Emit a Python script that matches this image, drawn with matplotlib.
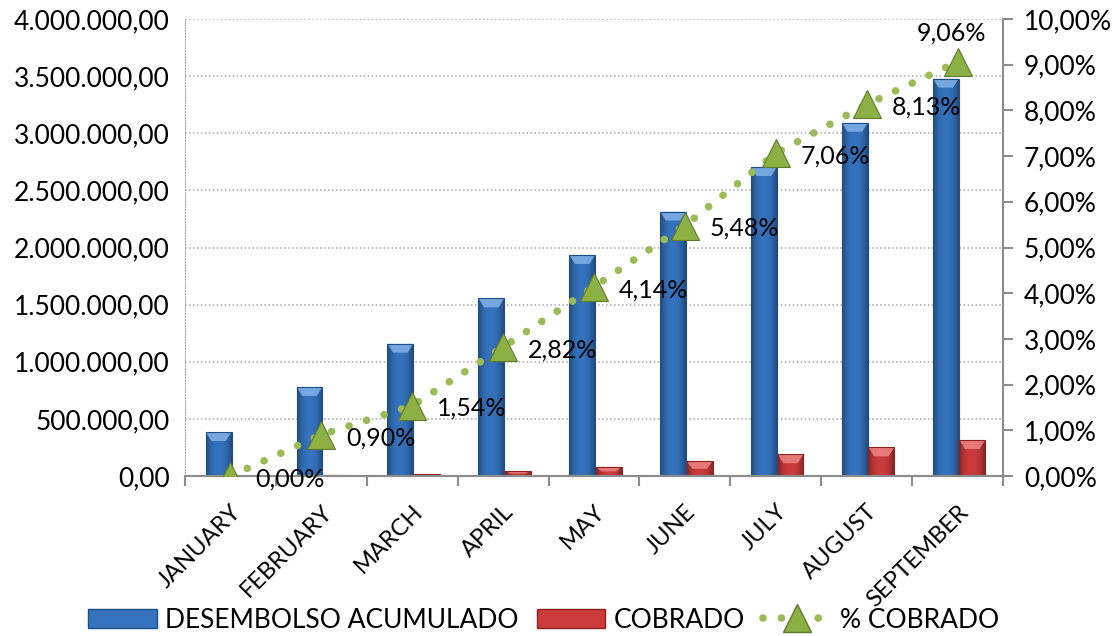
import numpy as np
import matplotlib
matplotlib.use("Agg")
import matplotlib.pyplot as plt
from matplotlib.patches import Polygon, Rectangle
from matplotlib.lines import Line2D
from matplotlib.ticker import FuncFormatter, MultipleLocator, FixedLocator

plt.rcParams['font.family'] = ['Lato', 'DejaVu Sans']

months = ["JANUARY", "FEBRUARY", "MARCH", "APRIL", "MAY", "JUNE", "JULY", "AUGUST", "SEPTEMBER"]
desembolso = [385000, 780000, 1158000, 1555000, 1935000, 2315000, 2705000, 3092000, 3478000]
cobrado = [0, 7000, 18000, 44000, 80000, 127000, 191000, 251000, 315000]
pct_cobrado = [0.0000, 0.0090, 0.0154, 0.0282, 0.0414, 0.0548, 0.0706, 0.0813, 0.0906]
pct_labels = ["0,00%", "0,90%", "1,54%", "2,82%", "4,14%", "5,48%", "7,06%", "8,13%", "9,06%"]

BLUE = "#3573BE"
BLUE_DARK = "#1F4E86"
BLUE_LIGHT = "#8CBBEE"
RED = "#CC3B3B"
RED_DARK = "#8E2020"
RED_LIGHT = "#F29090"
GREEN = "#9BBB59"
GREEN_FACE = "#8DB045"
GREEN_DARK = "#5E7A2C"
GRAY = "#8C8C8C"

W, H = 1116, 636
fig = plt.figure(figsize=(W / 100, H / 100), dpi=100)
ax = fig.add_axes([185 / W, 1 - 476 / H, (1003 - 185) / W, (476 - 19) / H])
ax2 = ax.twinx()

x = np.arange(len(months))
bw = 0.285


def euro(v, _):
    s = f"{v:,.2f}"
    return s.replace(",", "X").replace(".", ",").replace("X", ".")


def pct(v, _):
    return f"{v * 100:.2f}%".replace(".", ",")


def shade(hex_color, f):
    c = np.array(matplotlib.colors.to_rgb(hex_color))
    if f >= 0:
        return c + (1 - c) * f
    return c * (1 + f)


def bevel_bars(bars, base, dark, light):
    ylim = 4000000
    cap = 9 * ylim / 457.0
    for b in bars:
        x0, y0 = b.get_x(), b.get_y()
        w, h = b.get_width(), b.get_height()
        if h <= 0:
            continue
        cols = 40
        prof = np.linspace(-1, 1, cols)
        k = -0.35 * np.abs(prof) ** 2.2
        row = np.array([shade(base, kk) for kk in k])
        img = np.repeat(row[None, :, :], 2, axis=0)
        im = ax.imshow(img, extent=(x0, x0 + w, y0, y0 + h), aspect="auto",
                       zorder=2, interpolation="bilinear")
        im.set_clip_path(b)
        ch = min(cap, h * 0.5)
        top = y0 + h
        inset = w * 0.22
        ax.add_patch(Polygon([(x0, top), (x0 + w, top), (x0 + w - inset, top - ch),
                              (x0 + inset, top - ch)], closed=True,
                             facecolor=light, edgecolor="none", alpha=0.75, zorder=3))
        ax.add_patch(Rectangle((x0, y0), w, h, facecolor="none", edgecolor=dark,
                               linewidth=0.8, zorder=3))


ax.set_xlim(-0.5, len(months) - 0.5)
ax.set_ylim(0, 4000000)
ax2.set_ylim(0, 0.10)

ax.yaxis.set_major_locator(MultipleLocator(500000))
ax.yaxis.set_major_formatter(FuncFormatter(euro))
ax2.yaxis.set_major_locator(MultipleLocator(0.01))
ax2.yaxis.set_major_formatter(FuncFormatter(pct))

ax.grid(axis="y", color="#A6A6A6", linestyle=(0, (1, 1.6)), linewidth=1.1)
ax.set_axisbelow(True)

blue_bars = ax.bar(x - 0.13, desembolso, width=bw, color="none", edgecolor="none", zorder=2)
red_bars = ax.bar(x + 0.162, cobrado, width=bw, color="none", edgecolor="none", zorder=2)
bevel_bars(blue_bars, BLUE, BLUE_DARK, BLUE_LIGHT)
bevel_bars(red_bars, RED, RED_DARK, RED_LIGHT)

ax2.plot(x, pct_cobrado, color=GREEN, linestyle=(0, (0.01, 2.4)), linewidth=5.5,
         dash_capstyle="round", zorder=4)
ax2.plot(x, pct_cobrado, linestyle="none", marker="^", markersize=20,
         markerfacecolor=GREEN_FACE, markeredgecolor=GREEN_DARK, markeredgewidth=0.8, zorder=5)

for i, (v, lab) in enumerate(zip(pct_cobrado, pct_labels)):
    if i == len(months) - 1:
        ax2.annotate(lab, (x[i], v), xytext=(-4, 21), textcoords="offset points",
                     ha="center", va="center", fontsize=18, zorder=6)
    else:
        ax2.annotate(lab, (x[i], v), xytext=(43, -2), textcoords="offset points",
                     ha="center", va="center", fontsize=18, zorder=6)

for a in (ax, ax2):
    a.spines["top"].set_visible(False)
ax.spines["left"].set_color("#A6A6A6")
ax.spines["left"].set_linestyle((0, (1, 1.6)))
ax.spines["right"].set_visible(False)
ax2.spines["left"].set_visible(False)
ax2.spines["bottom"].set_color(GRAY)
ax2.spines["bottom"].set_linewidth(1.5)
ax.spines["bottom"].set_color(GRAY)
ax.spines["bottom"].set_linewidth(1.5)
ax2.spines["right"].set_color(GRAY)
ax2.spines["right"].set_linewidth(1.5)

ax.tick_params(axis="y", length=0, labelsize=19, pad=11)
ax2.tick_params(axis="y", length=7, width=1.5, color=GRAY, labelsize=19, pad=8)

ax.set_xticks(x)
ax.set_xticklabels(months, rotation=45, ha="right", va="top", rotation_mode="anchor", fontsize=17)
ax.tick_params(axis="x", which="major", length=0, pad=18)
ax.xaxis.set_minor_locator(FixedLocator(np.arange(-0.5, len(months), 1.0)))
ax.tick_params(axis="x", which="minor", length=7, width=1.5, color=GRAY)

handles = [
    Rectangle((0, 0), 1, 1, facecolor=BLUE, edgecolor=BLUE_DARK),
    Rectangle((0, 0), 1, 1, facecolor=RED, edgecolor=RED_DARK),
    Line2D([], [], color=GREEN, linestyle=(0, (0.01, 2.4)), linewidth=5.5, dash_capstyle="round",
           marker="^", markersize=20, markerfacecolor=GREEN_FACE, markeredgecolor=GREEN_DARK),
]
fig.legend(handles, ["DESEMBOLSO ACUMULADO", "COBRADO", "% COBRADO"], loc="center",
           bbox_to_anchor=(0.487, 1 - 620 / H), ncol=3, frameon=False, fontsize=19,
           handlelength=2.6, handleheight=0.75, handletextpad=0.3, columnspacing=0.7)

fig.savefig("out.png", dpi=100)
